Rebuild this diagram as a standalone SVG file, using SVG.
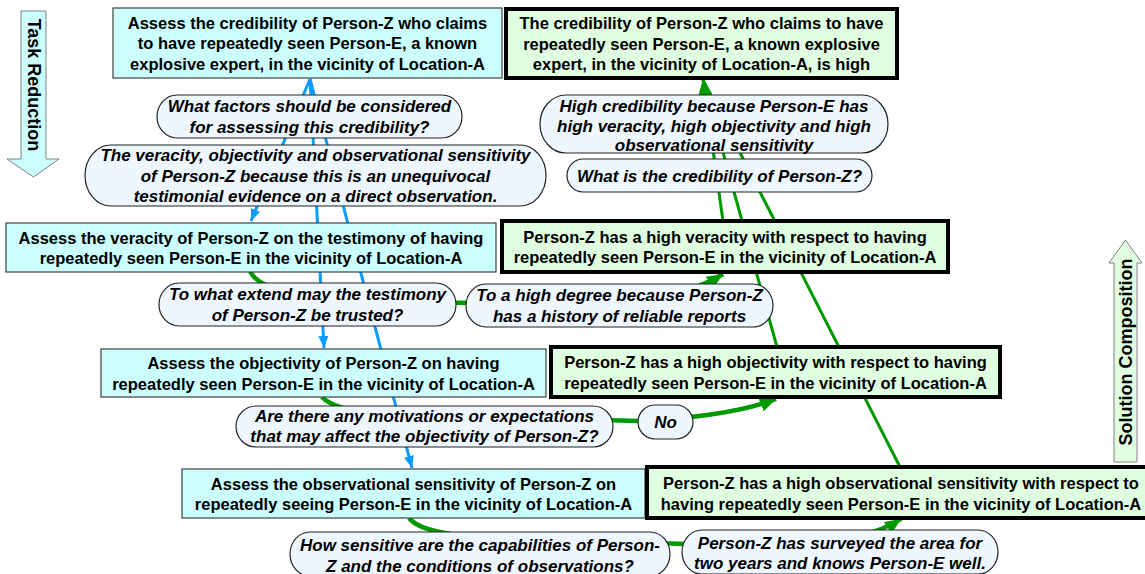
<svg xmlns="http://www.w3.org/2000/svg" width="1145" height="574" viewBox="0 0 1145 574">
<style>
.t rect{fill:#ccffff;stroke:#404040;stroke-width:1.2}
.s rect{fill:#e0ffe0;stroke:#000;stroke-width:4}
.p rect{fill:#eef7ff;stroke:#222;stroke-width:1.2}
text{font-family:"Liberation Sans",Arial,sans-serif;font-weight:bold;fill:#000;text-anchor:middle}
.t text,.s text{font-size:16.5px}
.p text{font-size:17px;font-style:italic}
.lbl{font-size:18px}
.blue{fill:none;stroke:#0a9bff;stroke-width:3}
.grn{fill:none;stroke:#009a00;stroke-width:4.5}
.gth{fill:none;stroke:#009a00;stroke-width:3}
</style>
<defs>
<marker id="ab" markerUnits="userSpaceOnUse" markerWidth="12" markerHeight="10" refX="12" refY="5" orient="auto"><path d="M0,0 L12,5 L0,10 z" fill="#0a9bff"/></marker>
<marker id="ag" markerUnits="userSpaceOnUse" markerWidth="16" markerHeight="14" refX="16" refY="7" orient="auto"><path d="M0,0 L16,7 L0,14 z" fill="#009a00"/></marker>
</defs>

<g id="task-reduction-arrow">
<polygon points="21,11 46,11 46,159 59,159 33.5,177 7,159 21,159" fill="#ccffff" stroke="#808080" stroke-width="1"/>
<text class="lbl" transform="translate(33.5,85) rotate(90)" y="6">Task Reduction</text>
</g>
<g id="solution-composition-arrow">
<polygon points="1114,462 1114,263 1109,263 1125.5,240 1142,263 1137,263 1137,462" fill="#e0ffe0" stroke="#808080" stroke-width="1"/>
<text class="lbl" transform="translate(1125.5,352) rotate(-90)" y="6">Solution Composition</text>
</g>

<g id="connectors">
<path class="blue" d="M310,79 L251,221" marker-end="url(#ab)"/>
<path class="blue" d="M310,79 L324,348" marker-end="url(#ab)"/>
<path class="blue" d="M310,79 L412,468" marker-end="url(#ab)"/>
<path class="gth" d="M777,347 L703,80"/>
<path class="gth" d="M900,467 L703,80"/>
<path class="gth" d="M723,221 L703,79" marker-end="url(#ag)"/>
<path class="grn" d="M250,271 C258,291 310,300 380,302 L580,304 C650,302 695,292 723,274" marker-end="url(#ag)"/>
<path class="grn" d="M322,397 C330,406 348,411 380,414 L640,421 C700,418 745,411 776,399" marker-end="url(#ag)"/>
<path class="grn" d="M409,518 C416,527 432,532 470,537 L780,547 C840,543 880,533 901,519" marker-end="url(#ag)"/>
</g>

<g id="T1" class="t"><rect x="113" y="8" width="389" height="70"/>
<text x="307.5" y="28.5">Assess the credibility of Person-Z who claims</text>
<text x="307.5" y="49">to have repeatedly seen Person-E, a known</text>
<text x="307.5" y="69.5">explosive expert, in the vicinity of Location-A</text></g>

<g id="S1" class="s"><rect x="506" y="9" width="391" height="69"/>
<text x="701.5" y="29">The credibility of Person-Z who claims to have</text>
<text x="701.5" y="49.5">repeatedly seen Person-E, a known explosive</text>
<text x="701.5" y="70">expert, in the vicinity of Location-A, is high</text></g>

<g id="Q1" class="p"><rect x="157" y="95" width="305" height="43" rx="20" ry="21.5"/>
<text x="309.5" y="112">What factors should be considered</text>
<text x="309.5" y="132.5">for assessing this credibility?</text></g>

<g id="A1" class="p"><rect x="85" y="145" width="461" height="61" rx="26" ry="30.5"/>
<text x="315.5" y="161">The veracity, objectivity and observational sensitivity</text>
<text x="315.5" y="181.5">of Person-Z because this is an unequivocal</text>
<text x="315.5" y="202">testimonial evidence on a direct observation.</text></g>

<g id="AS1" class="p"><rect x="540" y="95" width="348" height="58" rx="26" ry="29"/>
<text x="714" y="112">High credibility because Person-E has</text>
<text x="714" y="132">high veracity, high objectivity and high</text>
<text x="714" y="151">observational sensitivity</text></g>

<g id="QS1" class="p"><rect x="567" y="159" width="305" height="33" rx="16" ry="16.5"/>
<text x="719.5" y="181.5">What is the credibility of Person-Z?</text></g>

<g id="T2" class="t"><rect x="6" y="223" width="490" height="49"/>
<text x="251" y="243.5">Assess the veracity of Person-Z on the testimony of having</text>
<text x="251" y="264">repeatedly seen Person-E in the vicinity of Location-A</text></g>

<g id="S2" class="s"><rect x="502" y="221" width="446" height="51"/>
<text x="725" y="242.5">Person-Z has a high veracity with respect to having</text>
<text x="725" y="263">repeatedly seen Person-E in the vicinity of Location-A</text></g>

<g id="Q2" class="p"><rect x="159" y="283" width="297" height="43" rx="20" ry="21.5"/>
<text x="307.5" y="300">To what extend may the testimony</text>
<text x="307.5" y="320.5">of Person-Z be trusted?</text></g>

<g id="A2" class="p"><rect x="466" y="284" width="307" height="43" rx="20" ry="21.5"/>
<text x="619.5" y="301">To a high degree because Person-Z</text>
<text x="619.5" y="321.5">has a history of reliable reports</text></g>

<g id="T3" class="t"><rect x="101" y="349" width="445" height="48"/>
<text x="323.5" y="369">Assess the objectivity of Person-Z on having</text>
<text x="323.5" y="389.5">repeatedly seen Person-E in the vicinity of Location-A</text></g>

<g id="S3" class="s"><rect x="551" y="347" width="449" height="50"/>
<text x="775.5" y="368">Person-Z has a high objectivity with respect to having</text>
<text x="775.5" y="388.5">repeatedly seen Person-E in the vicinity of Location-A</text></g>

<g id="Q3" class="p"><rect x="236" y="406" width="377" height="41" rx="20" ry="20.5"/>
<text x="424.5" y="422">Are there any motivations or expectations</text>
<text x="424.5" y="442">that may affect the objectivity of Person-Z?</text></g>

<g id="No" class="p"><rect x="638" y="405" width="55" height="34" rx="17" ry="17"/>
<text x="665.5" y="428">No</text></g>

<g id="T4" class="t"><rect x="182" y="469" width="463" height="49"/>
<text x="413.5" y="489.5">Assess the observational sensitivity of Person-Z on</text>
<text x="413.5" y="510">repeatedly seeing Person-E in the vicinity of Location-A</text></g>

<g id="S4" class="s"><rect x="647" y="467" width="508" height="51"/>
<text x="901" y="489">Person-Z has a high observational sensitivity with respect to</text>
<text x="901" y="509.5">having repeatedly seen Person-E in the vicinity of Location-A</text></g>

<g id="Q4" class="p"><rect x="290" y="532" width="380" height="44" rx="20" ry="22"/>
<text x="480" y="551">How sensitive are the capabilities of Person-</text>
<text x="480" y="571.5">Z and the conditions of observations?</text></g>

<g id="A4" class="p"><rect x="682" y="530" width="316" height="44" rx="20" ry="22"/>
<text x="840" y="549">Person-Z has surveyed the area for</text>
<text x="840" y="569">two years and knows Person-E well.</text></g>
</svg>
